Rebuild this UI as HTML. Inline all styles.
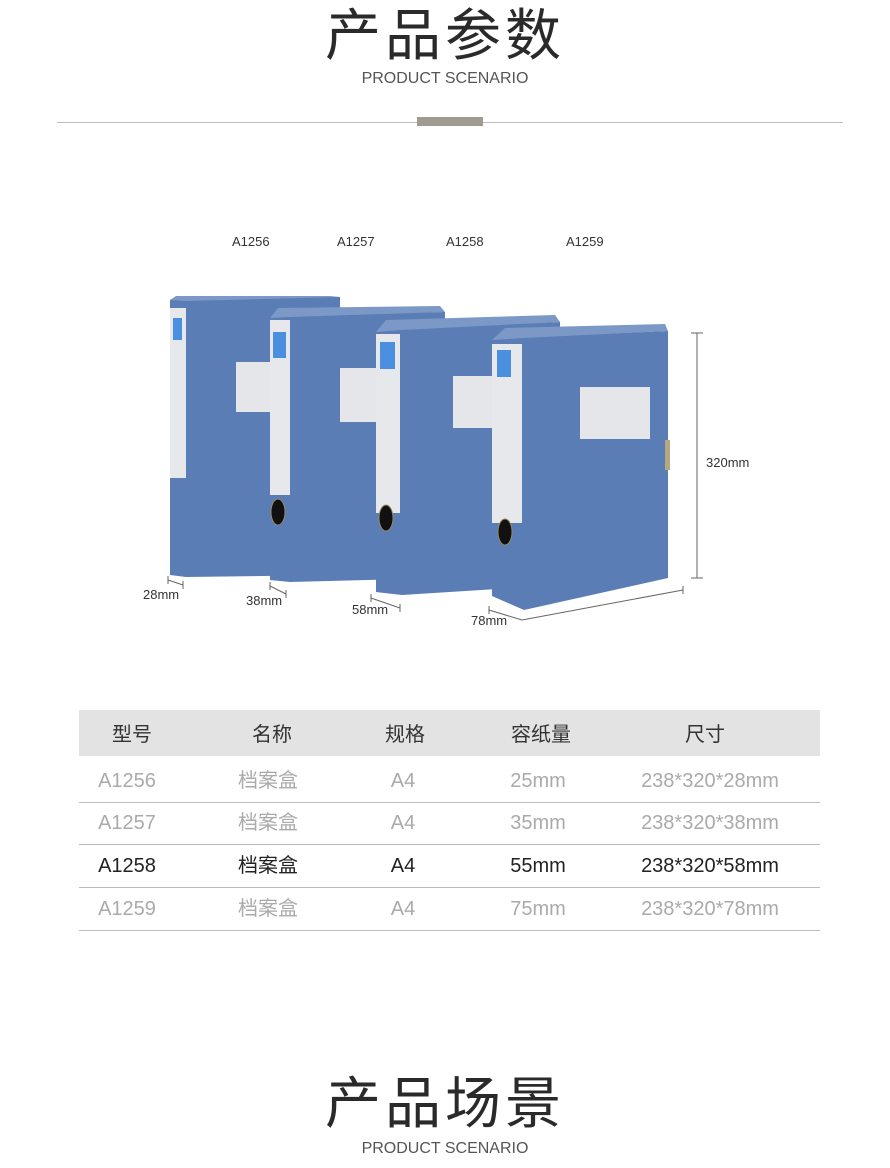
<!DOCTYPE html>
<html><head><meta charset="utf-8"><style>
body{margin:0;width:890px;height:1168px;background:#fff;position:relative;overflow:hidden;font-family:"Liberation Sans","Noto Sans CJK SC",sans-serif}
.a{position:absolute;white-space:nowrap}
.t{left:0;width:890px;text-align:center;color:#2a2a2a;font-size:56px;line-height:56px;letter-spacing:4px}
.s{left:0;width:890px;text-align:center;color:#555;font-size:16px;line-height:18px}
.row{position:absolute;left:79px;width:741px;height:42px;border-bottom:1px solid #bbb;font-size:20px}
.c{position:absolute;top:0;line-height:42px;text-align:center;transform:translateX(-50%)}
.m{font-size:13px;color:#333}
</style></head><body>
<div class="a t" style="top:8px">产品参数</div>
<div class="a s" style="top:70px">PRODUCT SCENARIO</div>
<div class="a" style="left:57px;top:122px;width:786px;height:1px;background:#bdbdbd"></div>
<div class="a" style="left:417px;top:117px;width:66px;height:9px;background:#a09a90"></div>

<div class="a m" style="left:232px;top:234px">A1256</div>
<div class="a m" style="left:337px;top:234px">A1257</div>
<div class="a m" style="left:446px;top:234px">A1258</div>
<div class="a m" style="left:566px;top:234px">A1259</div>

<svg class="a" style="left:0;top:0" width="890" height="700">
<g stroke="#666" stroke-width="1" fill="none">
<line x1="697" y1="333" x2="697" y2="578"/><line x1="691" y1="333" x2="703" y2="333"/><line x1="691" y1="578" x2="703" y2="578"/>
<line x1="168" y1="580" x2="183" y2="585"/><line x1="168" y1="576" x2="168" y2="584"/><line x1="183" y1="581" x2="183" y2="589"/>
<line x1="270" y1="586" x2="286" y2="594"/><line x1="270" y1="582" x2="270" y2="590"/><line x1="286" y1="590" x2="286" y2="598"/>
<line x1="371" y1="598" x2="400" y2="608"/><line x1="371" y1="594" x2="371" y2="602"/><line x1="400" y1="604" x2="400" y2="612"/>
<line x1="489" y1="610" x2="522" y2="620"/><line x1="489" y1="606" x2="489" y2="614"/>
<line x1="522" y1="620" x2="683" y2="590"/><line x1="683" y1="586" x2="683" y2="594"/>
</g>
<g>
<polygon points="170,300 186,297 340,297 340,575 186,577 170,575" fill="#5a7db6"/>
<polygon points="170,300 176,296 330,296 340,297 186,301" fill="#7b98c6"/>
<polygon points="170,308 186,308 186,478 170,478" fill="#e6e8ec"/>
<rect x="173" y="318" width="9" height="22" fill="#4a8fe0"/>
<rect x="236" y="362" width="104" height="50" fill="#e4e6ea"/>
</g>
<g>
<polygon points="270,318 290,315 445,312 445,578 290,582 270,580" fill="#5a7db6"/>
<polygon points="270,318 278,308 440,306 445,312 290,317" fill="#7b98c6"/>
<polygon points="270,320 290,320 290,495 270,495" fill="#e6e8ec"/>
<rect x="273" y="332" width="13" height="26" fill="#4a8fe0"/>
<rect x="340" y="368" width="105" height="54" fill="#e4e6ea"/>
<ellipse cx="278" cy="512" rx="7" ry="13" fill="#111" stroke="#9a8a60"/>
</g>
<g>
<polygon points="376,332 402,328 560,322 560,585 402,595 376,592" fill="#5a7db6"/>
<polygon points="376,332 386,320 555,315 560,322 402,330" fill="#7b98c6"/>
<polygon points="376,334 400,334 400,513 376,513" fill="#e6e8ec"/>
<rect x="380" y="342" width="15" height="27" fill="#4a8fe0"/>
<rect x="453" y="376" width="107" height="52" fill="#e4e6ea"/>
<ellipse cx="386" cy="518" rx="7" ry="13" fill="#111" stroke="#9a8a60"/>
</g>
<g>
<polygon points="492,340 524,337 668,331 668,578 524,610 492,596" fill="#5a7db6"/>
<polygon points="492,340 505,328 665,324 668,331 524,338" fill="#7b98c6"/>
<polygon points="492,344 522,344 522,523 492,523" fill="#e6e8ec"/>
<rect x="497" y="350" width="14" height="27" fill="#4a8fe0"/>
<rect x="580" y="387" width="70" height="52" fill="#e4e6ea"/>
<rect x="665" y="440" width="5" height="30" fill="#b8a880"/>
<ellipse cx="505" cy="532" rx="7" ry="13" fill="#111" stroke="#9a8a60"/>
</g>
</svg>
<div class="a m" style="left:706px;top:455px">320mm</div>
<div class="a m" style="left:143px;top:587px">28mm</div>
<div class="a m" style="left:246px;top:593px">38mm</div>
<div class="a m" style="left:352px;top:602px">58mm</div>
<div class="a m" style="left:471px;top:613px">78mm</div>

<div class="a" style="left:79px;top:710px;width:741px;height:46px;background:#e3e3e3"></div>
<div class="row" style="top:714px;border:none;color:#333">
<div class="c" style="left:53px">型号</div><div class="c" style="left:193px">名称</div><div class="c" style="left:326px">规格</div><div class="c" style="left:462px">容纸量</div><div class="c" style="left:626px">尺寸</div></div>
<div class="row" style="top:760px;color:#aaa"><div class="c" style="left:48px">A1256</div><div class="c" style="left:189px">档案盒</div><div class="c" style="left:324px">A4</div><div class="c" style="left:459px">25mm</div><div class="c" style="left:631px">238*320*28mm</div></div>
<div class="row" style="top:802px;color:#aaa"><div class="c" style="left:48px">A1257</div><div class="c" style="left:189px">档案盒</div><div class="c" style="left:324px">A4</div><div class="c" style="left:459px">35mm</div><div class="c" style="left:631px">238*320*38mm</div></div>
<div class="row" style="top:845px;color:#222"><div class="c" style="left:48px">A1258</div><div class="c" style="left:189px">档案盒</div><div class="c" style="left:324px">A4</div><div class="c" style="left:459px">55mm</div><div class="c" style="left:631px">238*320*58mm</div></div>
<div class="row" style="top:888px;color:#aaa"><div class="c" style="left:48px">A1259</div><div class="c" style="left:189px">档案盒</div><div class="c" style="left:324px">A4</div><div class="c" style="left:459px">75mm</div><div class="c" style="left:631px">238*320*78mm</div></div>

<div class="a t" style="top:1076px">产品场景</div>
<div class="a s" style="top:1140px">PRODUCT SCENARIO</div>
</body></html>
